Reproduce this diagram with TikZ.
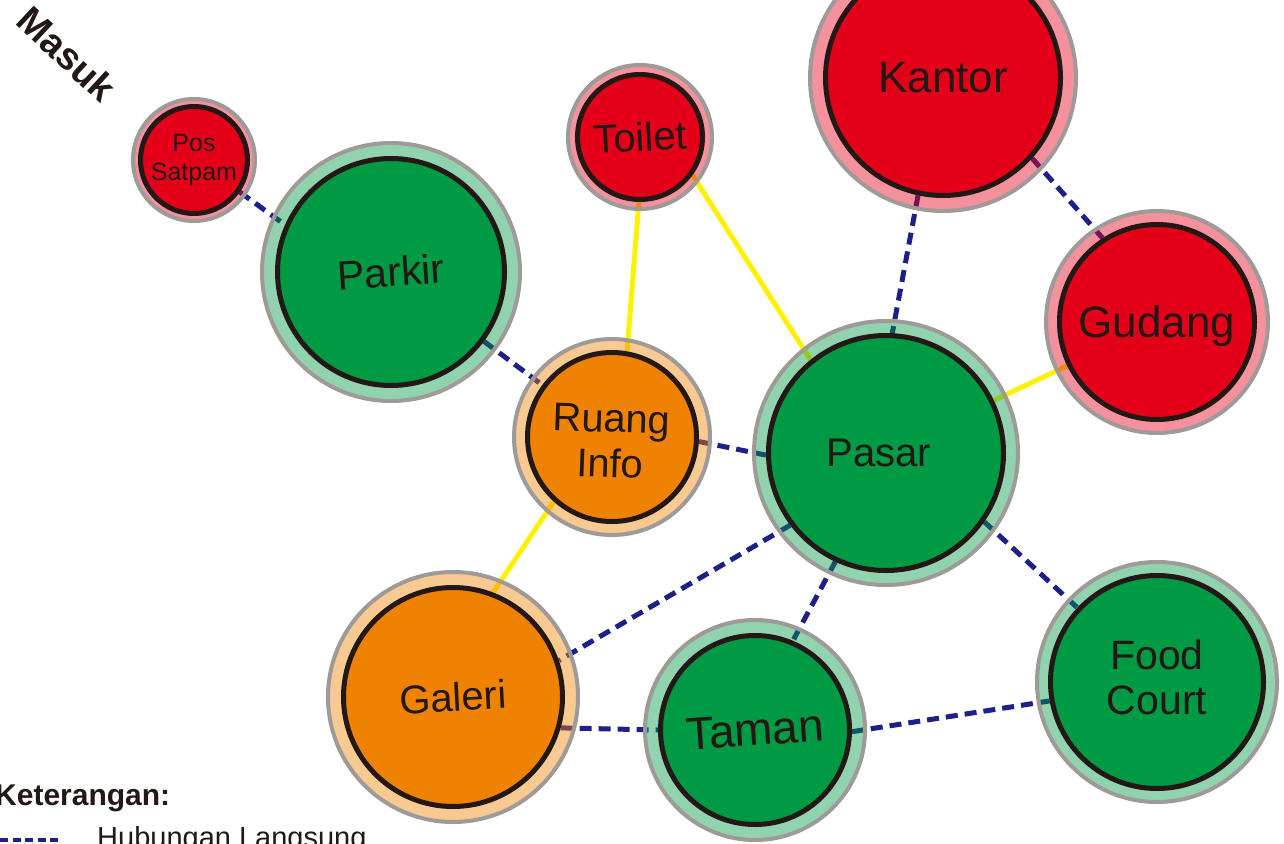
\documentclass[tikz,border=0pt]{standalone}
\usepackage{graphicx}
\usepackage{fontspec}
\setmainfont{Liberation Sans}
\pgfdeclarelayer{links}
\pgfdeclarelayer{halo}
\pgfsetlayers{links,halo,main}

\definecolor{roomred}{HTML}{E50019}
\definecolor{roomgreen}{HTML}{009944}
\definecolor{roomorange}{HTML}{EF8200}
\definecolor{ringgray}{HTML}{9E9A97}
\definecolor{inkdark}{HTML}{231815}
\definecolor{linknavy}{HTML}{1D2088}
\definecolor{linkyellow}{HTML}{FFF100}

\tikzset{
  room/.style={circle, draw=inkdark, line width=5pt, inner sep=0pt,
    text=inkdark, align=center, minimum size=#1},
  fs/.style 2 args={font=\fontsize{#1}{#2}\selectfont},
  direct/.style={draw=linknavy, line width=5pt, dash pattern=on 12pt off 7pt},
  indirect/.style={draw=linkyellow, line width=5pt},
}

% soft coloured ring with grey rim around a room
\newcommand\roomhalo[3]{%
  \begin{pgfonlayer}{halo}
    \path[draw=ringgray, line width=4pt, fill=#3, fill opacity=0.43]
      (#1.center) circle[radius=#2pt];
  \end{pgfonlayer}}
% slightly tilted room name
\newcommand\tilt[2]{\rotatebox{#1}{#2}}

\begin{document}
\begin{tikzpicture}[x=1pt, y=-1pt]
\useasboundingbox (0,0) rectangle (1284,843);

% rooms
\node[room=107pt, fill=roomred, fs={25}{29}, text depth=6pt] (satpam) at (194,160) {Pos\\Satpam};
\node[room=227pt, fill=roomgreen, fs={41}{45}] (parkir) at (391,272) {\tilt{4}{Parkir}};
\node[room=125pt, fill=roomred, fs={40}{45}] (toilet) at (640,137) {\tilt{3}{Toilet}};
\node[room=235pt, fill=roomred, fs={44}{48}] (kantor) at (943,78) {Kantor};
\node[room=195pt, fill=roomred, fs={44}{48}, text depth=0pt] (gudang) at (1157,322) {Gudang};
\node[room=169pt, fill=roomorange] (ruang) at (612,437) {};
\node[fs={40}{45}, text=inkdark, align=center, rotate=-2, text depth=0pt] (ruanglabel) at (611,441) {Ruang\\Info};
\node[room=235pt, fill=roomgreen, fs={40}{45}] (pasar) at (886,453) {Pasar\hspace*{14pt}};
\node[room=219pt, fill=roomorange, fs={40}{45}] (galeri) at (453,697) {\tilt{3}{Galeri}};
\node[room=189pt, fill=roomgreen, fs={46}{50}] (taman) at (755,730) {\tilt{4}{Taman}};
\node[room=213pt, fill=roomgreen, fs={41}{45}, text depth=10pt] (food) at (1157,682) {Food\\Court};

% halos
\roomhalo{satpam}{61}{roomred}
\roomhalo{parkir}{129}{roomgreen}
\roomhalo{toilet}{72}{roomred}
\roomhalo{kantor}{133}{roomred}
\roomhalo{gudang}{111}{roomred}
\roomhalo{ruang}{98}{roomorange}
\roomhalo{pasar}{132}{roomgreen}
\roomhalo{galeri}{125}{roomorange}
\roomhalo{taman}{110}{roomgreen}
\roomhalo{food}{120}{roomgreen}

% connections
\begin{pgfonlayer}{links}
  \draw[direct] (satpam.-35) -- (parkir.156);
  \draw[direct] (parkir) -- (ruang);
  \draw[direct] (ruang.-3) -- (pasar.181);
  \draw[direct] (kantor.-102) -- (pasar.87);
  \draw[direct] (kantor.-42) -- (gudang.123);
  \draw[direct] (pasar.217) -- (galeri.19);
  \draw[direct] (pasar.-115) -- (taman.67);
  \draw[direct] (pasar.-35) -- (food.137);
  \draw[direct] (galeri.-16) -- (taman.180);
  \draw[direct] (taman.-1) -- (food.190);
  \draw[indirect] (toilet.-91) -- (ruang.80);
  \draw[indirect] (toilet.-36) -- (pasar.129);
  \draw[indirect] (pasar.26) -- (gudang.206);
  \draw[indirect] (ruang.228) -- (galeri.69);
\end{pgfonlayer}

% entrance label
\node[rotate=-43, font=\bfseries\fontsize{38}{42}\selectfont, text=inkdark] (masuk) at (67,54) {Masuk};

% legend
\node[anchor=base west, inner sep=0pt, font=\bfseries\fontsize{30}{33}\selectfont, text=inkdark] (legtitle) at (-5,805) {Keterangan:};
\coordinate (legA) at (0,840);
\coordinate (legB) at (62,840);
\draw[draw=linknavy, line width=4pt, dash pattern=on 8pt off 4.5pt] (legA) -- (legB);
\node[anchor=base west, inner sep=0pt, fs={29}{32}, text=inkdark] (legdirect) at (97,847) {Hubungan Langsung};
\end{tikzpicture}
\end{document}
